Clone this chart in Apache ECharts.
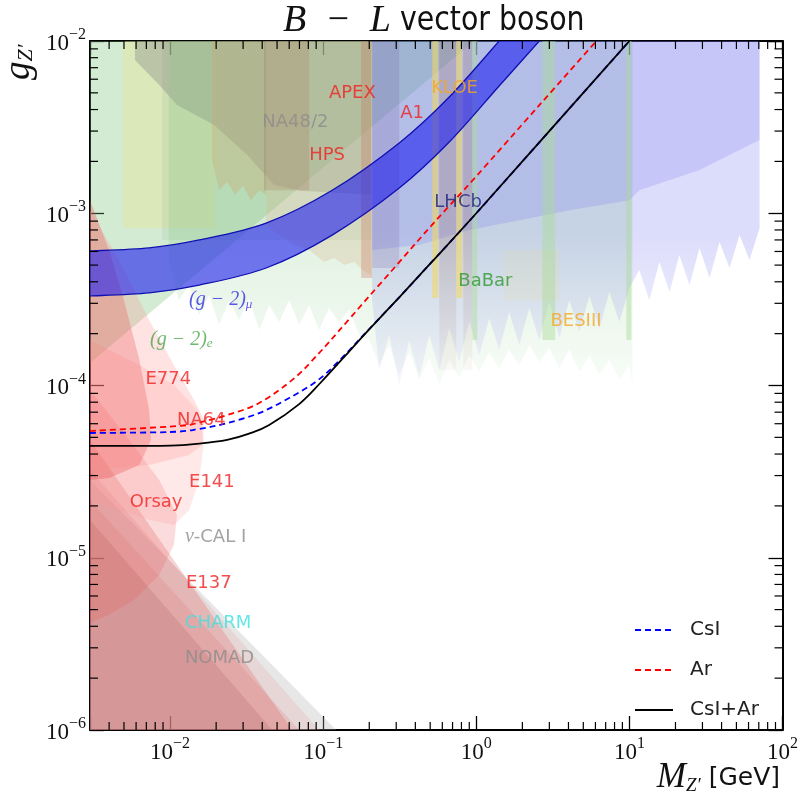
<!DOCTYPE html>
<html>
<head>
<meta charset="utf-8">
<script src="https://cdn.jsdelivr.net/npm/echarts@6/dist/echarts.min.js"></script>
<style>
  html, body { margin: 0; padding: 0; background: #fff; }
  #chart { width: 801px; height: 798px; }
</style>
</head>
<body>
<div id="chart"></div>
<script>
// ---- limit curves (M [GeV], g) ----
var csiLine = [[0.003,5.3e-5],[0.01,5.37e-5],[0.0155,5.6e-5],[0.0236,6.05e-5],[0.0382,6.92e-5],[0.06,8.46e-5],[0.0958,1.1e-4],[0.148,1.6e-4],[0.191,2.04e-4],[0.314,3.25e-4],[0.516,5.25e-4],[1.0,1.0e-3],[2.58,2.58e-3],[10,1e-2]]
var arLine = [[0.003,5.44e-5],[0.0112,5.82e-5],[0.0155,6.1e-5],[0.0236,6.74e-5],[0.0382,7.91e-5],[0.0646,1.1e-4],[0.0958,1.57e-4],[0.127,2.08e-4],[0.191,3.15e-4],[0.314,5.2e-4],[0.516,8.6e-4],[1.0,1.64e-3],[2.58,4.24e-3],[6.09,1e-2]]
var combLine = [[0.003,4.46e-5],[0.01,4.48e-5],[0.0155,4.6e-5],[0.0236,4.83e-5],[0.0328,5.25e-5],[0.0444,5.9e-5],[0.0697,7.8e-5],[0.0958,1.034e-4],[0.148,1.58e-4],[0.191,2.03e-4],[0.314,3.25e-4],[0.516,5.25e-4],[1.0,1.0e-3],[2.58,2.58e-3],[10,1e-2]]

// (g-2)_mu band edges
var gm2muUpper = [[0.003,6.04e-4],[0.0073,6.29e-4],[0.0155,7.0e-4],[0.0424,8.77e-4],[0.1145,1.36e-3],[0.314,2.56e-3],[0.666,4.73e-3],[1.41,1e-2]]
var gm2muLower = [[0.003,3.31e-4],[0.0073,3.45e-4],[0.0155,3.83e-4],[0.0424,4.81e-4],[0.1145,7.47e-4],[0.314,1.40e-3],[0.666,2.59e-3],[1.41,5.48e-3],[2.58,1e-2]]

// ---- excluded regions (outlines) ----
var gm2eRegion = [[0.003,0.01],[0.003,1.35e-4],[0.1145,2.04e-3],[0.97,0.01]]
var yellowRegion = [[0.00493,0.01],[0.00493,8.21e-4],[0.0197,8.21e-4],[0.0197,0.01]]
var greenBoxRegion = [[0.00887,0.01],[0.00887,7.0e-4],[0.206,7.0e-4],[0.206,0.01]]
var na48Region = [[0.0059,0.01],[0.0059,7.76e-3],[0.0085,5.56e-3],[0.0111,4.25e-3],[0.0194,3.25e-3],[0.0319,2.18e-3],[0.0479,1.46e-3],[0.0708,1.35e-3],[0.206,1.28e-3],[0.206,0.01]]
var hpsOrangeRegion = [[0.0188,0.01],[0.0188,2.04e-3],[0.0209,1.36e-3],[0.0236,1.52e-3],[0.0266,1.28e-3],[0.030,1.44e-3],[0.0338,1.19e-3],[0.0382,1.36e-3],[0.0424,1.28e-3],[0.0424,0.01]]
var apexRegion = [[0.0411,0.01],[0.0411,1.36e-3],[0.081,1.36e-3],[0.081,0.01]]
var hpsRegion = [[0.0424,0.01],[0.0424,8.55e-4],[0.0516,7.47e-4],[0.0646,6.54e-4],[0.081,6.12e-4],[0.1015,5.21e-4],[0.118,5.50e-4],[0.137,5.01e-4],[0.1595,5.21e-4],[0.180,4.69e-4],[0.206,4.38e-4],[0.206,0.01]]
var a1Region = [[0.177,0.01],[0.177,4.21e-4],[0.209,4.21e-4],[0.209,0.01]]
var purpleStripe = [[0.209,0.01],[0.209,4.81e-4],[0.314,4.81e-4],[0.314,0.01]]
var babarRegion = [[0.0098,0.01],[0.0098,5.36e-4],[0.0114,3.13e-4],[0.0133,3.83e-4],[0.0155,2.57e-4],[0.018,3.35e-4],[0.0209,2.25e-4],[0.0243,3.13e-4],[0.0282,2.4e-4],[0.0328,3.22e-4],[0.0382,2.1e-4],[0.0444,2.93e-4],[0.0516,2.34e-4],[0.060,3.13e-4],[0.0697,2.25e-4],[0.081,2.93e-4],[0.094,2.1e-4],[0.109,2.82e-4],[0.127,2.34e-4],[0.148,2.74e-4],[0.172,1.97e-4],[0.2,1.84e-4],[0.232,1.31e-4],[0.27,1.72e-4],[0.314,1.15e-4],[0.365,1.56e-4],[0.424,1.08e-4],[0.493,1.44e-4],[0.573,1.01e-4],[0.666,1.41e-4],[0.774,1.11e-4],[0.90,1.50e-4],[1.046,1.20e-4],[1.216,1.56e-4],[1.41,1.26e-4],[1.64,1.61e-4],[1.91,1.31e-4],[2.22,1.72e-4],[2.58,1.37e-4],[3.0,1.65e-4],[3.49,1.26e-4],[4.05,1.61e-4],[4.71,1.20e-4],[5.48,1.50e-4],[6.37,1.15e-4],[7.4,1.41e-4],[8.6,1.08e-4],[10,1.31e-4],[10.46,1.01e-4],[10.46,0.01]]
var lhcbRegion = [[0.209,0.01],[0.209,3.13e-4],[0.232,1.23e-4],[0.27,1.97e-4],[0.314,1.01e-4],[0.365,1.84e-4],[0.424,1.11e-4],[0.493,1.97e-4],[0.573,1.23e-4],[0.666,2.16e-4],[0.774,1.37e-4],[0.90,2.34e-4],[1.046,1.50e-4],[1.216,2.46e-4],[1.41,1.61e-4],[1.64,2.67e-4],[1.91,1.72e-4],[2.22,2.82e-4],[2.58,1.84e-4],[3.0,3.05e-4],[3.49,1.89e-4],[4.05,3.13e-4],[4.71,2.05e-4],[5.48,3.31e-4],[6.37,2.16e-4],[7.4,3.49e-4],[8.6,2.34e-4],[10,3.68e-4],[11.6,4.69e-4],[13.5,3.13e-4],[15.7,5.21e-4],[18.3,3.49e-4],[21.2,5.73e-4],[24.7,3.83e-4],[28.7,6.28e-4],[33.4,4.21e-4],[38.8,6.81e-4],[45.1,4.81e-4],[52.4,7.47e-4],[60.9,5.36e-4],[70.8,8.21e-4],[70.8,0.01]]
var lhcbCoreRegion = [[0.209,0.01],[0.209,6.12e-4],[0.424,6.54e-4],[0.90,8.0e-4],[1.91,9.1e-4],[4.05,1.04e-3],[10,1.19e-3],[11.6,1.36e-3],[28.7,1.78e-3],[70.8,2.66e-3],[70.8,0.01]]
var kloeRegionA = [[0.516,0.01],[0.516,3.22e-4],[0.565,3.22e-4],[0.565,0.01]]
var kloeRegionB = [[0.740,0.01],[0.740,3.22e-4],[0.810,3.22e-4],[0.810,0.01]]
var brownStripeA = [[0.573,0.01],[0.573,1.23e-4],[0.740,1.23e-4],[0.740,0.01]]
var brownStripeB = [[0.822,0.01],[0.822,1.23e-4],[0.942,1.23e-4],[0.942,0.01]]
var greenStripeA = [[0.942,0.01],[0.942,1.84e-4],[1.015,1.84e-4],[1.015,0.01]]
var greenStripeB = [[2.70,0.01],[2.70,1.84e-4],[3.28,1.84e-4],[3.28,0.01]]
var greenStripeC = [[9.55,0.01],[9.55,1.84e-4],[10.3,1.84e-4],[10.3,0.01]]
var besRegion = [[1.5,6.12e-4],[1.5,3.13e-4],[3.49,3.13e-4],[3.49,6.12e-4]]

var nomadRegion = [[0.003,2.83e-5],[0.1216,1e-6],[0.003,1e-6]]
var nucalRegion = [[0.003,3.23e-5],[0.094,1e-6],[0.003,1e-6]]
var charmRegion = [[0.003,2.16e-5],[0.0697,1e-6],[0.003,1e-6]]
var e137Region = [[0.003,4.83e-5],[0.0627,1e-6],[0.003,1e-6]]
var darkRegion = [[0.003,1.66e-5],[0.0465,1e-6],[0.003,1e-6]]
var orsayRegion = [[0.003,9.42e-5],[0.0054,4.83e-5],[0.0085,2.83e-5],[0.0111,1.77e-5],[0.0106,1.19e-5],[0.0085,7.94e-6],[0.00582,5.69e-6],[0.0040,4.66e-6],[0.003,4.18e-6]]
var e141Region = [[0.003,1.84e-4],[0.0063,1.31e-4],[0.0106,1.01e-4],[0.0150,7.21e-5],[0.0167,4.83e-5],[0.0155,2.83e-5],[0.0133,1.89e-5],[0.0106,1.55e-5],[0.0073,1.66e-5],[0.003,2.16e-5]]
var e774Region = [[0.003,1.19e-3],[0.0040,6.12e-4],[0.0050,3.13e-4],[0.0063,1.41e-4],[0.0073,7.21e-5],[0.00751,4.83e-5],[0.0063,3.46e-5],[0.0040,2.90e-5],[0.003,2.83e-5]]
var na64Region = [[0.003,1.04e-3],[0.00464,5.36e-4],[0.0073,2.4e-4],[0.0106,1.31e-4],[0.01435,8.24e-5],[0.0167,6.31e-5],[0.0162,4.52e-5],[0.0133,3.95e-5],[0.0073,3.46e-5],[0.003,3.23e-5]]

// ---- text labels: [M, g, text, colour] ----
var regionLabels = [
  [0.109, 4.99e-3, 'APEX', '#f02020'],
  [0.319, 3.82e-3, 'A1', '#f02020'],
  [0.508, 5.33e-3, 'KLOE', '#f5a623'],
  [0.040, 3.39e-3, 'NA48/2', '#8c8c8c'],
  [0.081, 2.18e-3, 'HPS', '#f02020'],
  [0.532, 1.15e-3, 'LHCb', '#1e1e78'],
  [0.763, 4.05e-4, 'BaBar', '#2e9a2e'],
  [3.05, 2.37e-4, 'BESIII', '#f5a623'],
  [0.0133, 3.13e-4, '{m|(g \u2212 2)}{ms|\u03bc}', '#3030e0'],
  [0.0074, 1.84e-4, '{m|(g \u2212 2)}{ms|e}', '#4ca64c'],
  [0.0069, 1.08e-4, 'E774', '#f02020'],
  [0.0111, 6.31e-5, 'NA64', '#f02020'],
  [0.0133, 2.75e-5, 'E141', '#f02020'],
  [0.00546, 2.11e-5, 'Orsay', '#f02020'],
  [0.0125, 1.32e-5, '{m|\u03bd}-CAL I', '#8c8c8c'],
  [0.0127, 7.13e-6, 'E137', '#f02020'],
  [0.0125, 4.18e-6, 'CHARM', '#3fe0e0'],
  [0.0125, 2.62e-6, 'NOMAD', '#8c8c8c']
]

// minor tick positions (2..9 x decade)
var xMinorTicks = []
var yMinorTicks = []
for (var d = -3; d <= 1; d++) {
  for (var m = 2; m <= 9; m++) {
    var v = m * Math.pow(10, d)
    if (v > 0.00301 && v < 99) xMinorTicks.push(v)
  }
}
for (var d2 = -6; d2 <= -3; d2++) {
  for (var m2 = 2; m2 <= 9; m2++) yMinorTicks.push(m2 * Math.pow(10, d2))
}

var chart = echarts.init(document.querySelector('#chart'))

function fade(r, g, b, a0, a1) {
  return new echarts.graphic.LinearGradient(0, 0, 0, 1, [
    { offset: 0, color: 'rgba(' + r + ',' + g + ',' + b + ',' + a0 + ')' },
    { offset: 0.55, color: 'rgba(' + r + ',' + g + ',' + b + ',' + a0 + ')' },
    { offset: 1, color: 'rgba(' + r + ',' + g + ',' + b + ',' + a1 + ')' }
  ])
}

function polySeries(pts, fill) {
  return {
    type: 'custom',
    silent: true,
    clip: true,
    data: pts,
    renderItem: function (params, api) {
      if (params.dataIndex !== 0) return null
      return {
        type: 'polygon',
        shape: { points: pts.map(function (p) { return api.coord(p) }) },
        style: { fill: fill }
      }
    }
  }
}

// Catmull-Rom curve through pixel points, as svg path commands
function curveThrough(px) {
  var s = ''
  for (var i = 0; i < px.length - 1; i++) {
    var p0 = px[i - 1] || px[i], p1 = px[i], p2 = px[i + 1], p3 = px[i + 2] || p2
    var c1 = [p1[0] + (p2[0] - p0[0]) / 6, p1[1] + (p2[1] - p0[1]) / 6]
    var c2 = [p2[0] - (p3[0] - p1[0]) / 6, p2[1] - (p3[1] - p1[1]) / 6]
    s += ' C' + c1[0] + ',' + c1[1] + ' ' + c2[0] + ',' + c2[1] + ' ' + p2[0] + ',' + p2[1]
  }
  return s
}

function curveSeries(pts, color, dash) {
  return {
    type: 'custom', silent: true, clip: true,
    data: pts,
    renderItem: function (params, api) {
      if (params.dataIndex !== 0) return null
      var px = pts.map(function (p) { return api.coord(p) })
      return {
        type: 'path',
        shape: { pathData: 'M' + px[0][0] + ',' + px[0][1] + curveThrough(px) },
        style: { fill: null, stroke: color, lineWidth: 1.8, lineDash: dash || null }
      }
    }
  }
}

var bandSeries = {
  type: 'custom', silent: true, clip: true,
  data: gm2muUpper,
  renderItem: function (params, api) {
    if (params.dataIndex !== 0) return null
    var up = gm2muUpper.map(function (p) { return api.coord(p) })
    var lo = gm2muLower.map(function (p) { return api.coord(p) }).reverse()
    var fill = 'M' + up[0][0] + ',' + up[0][1] + curveThrough(up) +
      ' L' + lo[0][0] + ',' + lo[0][1] + curveThrough(lo) + ' Z'
    var edge = '#1010b0'
    return { type: 'group', children: [
      { type: 'path', shape: { pathData: fill }, style: { fill: 'rgba(30,30,240,0.6)' } },
      { type: 'path', shape: { pathData: 'M' + up[0][0] + ',' + up[0][1] + curveThrough(up) }, style: { fill: null, stroke: edge, lineWidth: 1.3 } },
      { type: 'path', shape: { pathData: 'M' + lo[0][0] + ',' + lo[0][1] + curveThrough(lo) }, style: { fill: null, stroke: edge, lineWidth: 1.3 } }
    ] }
  }
}

function powLabel(value) {
  var lg = Math.log10(value)
  var e = Math.round(lg)
  if (Math.abs(lg - e) > 1e-6) return ''
  return '{b|10}{s|' + (e < 0 ? '\u2212' + (-e) : e) + '}'
}

var tickRich = {
  b: { fontFamily: 'Liberation Serif', fontSize: 23, color: '#111', lineHeight: 28, verticalAlign: 'bottom' },
  s: { fontFamily: 'Liberation Serif', fontSize: 16, color: '#111', verticalAlign: 'top', lineHeight: 16 }
}

var axisCommon = {
  axisLine: { show: true, onZero: false, lineStyle: { color: '#000', width: 2 } },
  axisTick: { show: true, inside: true, length: 14, lineStyle: { color: '#000', width: 1.3 } },
  splitLine: { show: false },
  minorTick: { show: false }
}

var minorStyle = { stroke: '#000', lineWidth: 1.2 }

var series = [
  polySeries(gm2eRegion, 'rgba(110,190,110,0.3)'),
  polySeries(yellowRegion, 'rgba(235,225,140,0.35)'),
  polySeries(greenBoxRegion, 'rgba(140,170,140,0.15)'),
  polySeries(na48Region, 'rgba(128,128,128,0.35)'),
  polySeries(hpsOrangeRegion, 'rgba(230,150,90,0.3)'),
  polySeries(apexRegion, 'rgba(170,90,70,0.3)'),
  polySeries(hpsRegion, 'rgba(240,180,150,0.3)'),
  polySeries(a1Region, 'rgba(220,90,80,0.3)'),
  polySeries(babarRegion, fade(130, 200, 130, 0.24, 0.06)),
  polySeries(lhcbRegion, fade(110, 110, 240, 0.24, 0.06)),
  polySeries(lhcbCoreRegion, 'rgba(110,110,240,0.2)'),
  polySeries(purpleStripe, 'rgba(120,90,160,0.2)'),
  polySeries(besRegion, 'rgba(240,220,120,0.12)'),
  polySeries(brownStripeA, fade(160, 110, 100, 0.25, 0.05)),
  polySeries(brownStripeB, fade(160, 110, 100, 0.25, 0.05)),
  polySeries(kloeRegionA, 'rgba(245,215,90,0.55)'),
  polySeries(kloeRegionB, 'rgba(245,215,90,0.55)'),
  polySeries(greenStripeA, 'rgba(170,220,150,0.45)'),
  polySeries(greenStripeB, 'rgba(170,220,150,0.45)'),
  polySeries(greenStripeC, 'rgba(170,220,150,0.45)'),
  polySeries(nomadRegion, 'rgba(175,175,175,0.3)'),
  polySeries(nucalRegion, 'rgba(230,175,175,0.3)'),
  polySeries(charmRegion, 'rgba(215,135,135,0.25)'),
  polySeries(e137Region, 'rgba(225,100,100,0.28)'),
  polySeries(darkRegion, 'rgba(170,90,90,0.22)'),
  polySeries(orsayRegion, 'rgba(235,90,90,0.22)'),
  polySeries(e141Region, 'rgba(255,150,150,0.22)'),
  polySeries(e774Region, 'rgba(230,70,70,0.3)'),
  polySeries(na64Region, 'rgba(255,140,140,0.25)'),
  bandSeries,
  curveSeries(csiLine, '#0000ff', [6, 4]),
  curveSeries(arLine, '#ff0000', [6, 4]),
  curveSeries(combLine, '#000000', null),
  // legend entries (curves are drawn above from the same arrays)
  { name: 'CsI', type: 'line', data: [], symbol: 'none', lineStyle: { color: '#0000ff', width: 1.8, type: [6, 4] }, itemStyle: { color: '#0000ff' } },
  { name: 'Ar', type: 'line', data: [], symbol: 'none', lineStyle: { color: '#ff0000', width: 1.8, type: [6, 4] }, itemStyle: { color: '#ff0000' } },
  { name: 'CsI+Ar', type: 'line', data: [], symbol: 'none', lineStyle: { color: '#000', width: 1.8 }, itemStyle: { color: '#000' } },
  {
    type: 'scatter', silent: true, symbolSize: 0,
    data: regionLabels.map(function (r) {
      return { value: [r[0], r[1]], name: r[2], label: { color: r[3] } }
    }),
    label: {
      show: true, position: 'right', distance: 0,
      formatter: function (p) { return p.name },
      fontFamily: 'DejaVu Sans', fontSize: 18,
      rich: {
        m: { fontFamily: 'Liberation Serif', fontStyle: 'italic', fontSize: 20 },
        ms: { fontFamily: 'Liberation Serif', fontStyle: 'italic', fontSize: 13, verticalAlign: 'bottom', padding: [8, 0, 0, 0] }
      }
    }
  },
  {
    type: 'custom', silent: true, clip: false,
    data: xMinorTicks.map(function (v) { return [v, 1e-6] }),
    renderItem: function (params, api) {
      var p = api.coord([api.value(0), 1e-6])
      var cs = params.coordSys
      return { type: 'group', children: [
        { type: 'line', shape: { x1: p[0], y1: cs.y + cs.height, x2: p[0], y2: cs.y + cs.height - 8 }, style: minorStyle },
        { type: 'line', shape: { x1: p[0], y1: cs.y, x2: p[0], y2: cs.y + 8 }, style: minorStyle }
      ] }
    }
  },
  {
    type: 'custom', silent: true, clip: false,
    data: yMinorTicks.map(function (v) { return [0.003, v] }),
    renderItem: function (params, api) {
      var p = api.coord([0.003, api.value(1)])
      var cs = params.coordSys
      return { type: 'group', children: [
        { type: 'line', shape: { x1: cs.x, y1: p[1], x2: cs.x + 8, y2: p[1] }, style: minorStyle },
        { type: 'line', shape: { x1: cs.x + cs.width, y1: p[1], x2: cs.x + cs.width - 8, y2: p[1] }, style: minorStyle }
      ] }
    }
  }
]

var option = {
  animation: false,
  backgroundColor: '#fff',
  grid: { left: 90, right: 18, top: 41, bottom: 68, containLabel: false },
  xAxis: [
    Object.assign({
      type: 'log', logBase: 10, min: 0.003, max: 100, position: 'bottom',
      axisLabel: { formatter: powLabel, rich: tickRich, margin: 6 }
    }, axisCommon),
    Object.assign({
      type: 'log', logBase: 10, min: 0.003, max: 100, position: 'top',
      axisLabel: { show: false }
    }, axisCommon)
  ],
  yAxis: [
    Object.assign({
      type: 'log', logBase: 10, min: 1e-6, max: 1e-2, position: 'left',
      axisLabel: { formatter: powLabel, rich: tickRich, margin: 4 }
    }, axisCommon),
    Object.assign({
      type: 'log', logBase: 10, min: 1e-6, max: 1e-2, position: 'right',
      axisLabel: { show: false }
    }, axisCommon)
  ],
  legend: {
    data: ['CsI', 'Ar', 'CsI+Ar'],
    orient: 'vertical',
    left: 629, top: 615,
    itemWidth: 38, itemHeight: 14, itemGap: 20,
    itemStyle: { opacity: 0 },
    textStyle: { fontFamily: 'DejaVu Sans', fontSize: 20, color: '#222', padding: [0, 0, 0, 12] }
  },
  graphic: [
    {
      type: 'text', x: 283, y: 21,
      style: {
        text: 'B  \u2212  L', align: 'left', verticalAlign: 'middle',
        font: 'italic 38px "Liberation Serif"', fill: '#111'
      }
    },
    {
      type: 'text', x: 400, y: 21, scaleX: 0.86,
      style: {
        text: 'vector boson', align: 'left', verticalAlign: 'middle',
        font: '33px "DejaVu Sans"', fill: '#111'
      }
    },
    {
      type: 'text', x: 19, y: 80, rotation: Math.PI / 2,
      style: {
        text: '{g|g}{z|Z\u2032}',
        align: 'left', verticalAlign: 'middle',
        rich: {
          g: { fontFamily: 'Liberation Serif', fontStyle: 'italic', fontSize: 37, fill: '#111' },
          z: { fontFamily: 'Liberation Serif', fontStyle: 'italic', fontSize: 22, fill: '#111', verticalAlign: 'bottom' }
        }
      }
    },
    {
      type: 'text', x: 780, y: 778,
      style: {
        text: '{m|M}{z|Z\u2032}{u|[GeV]}',
        align: 'right', verticalAlign: 'middle',
        rich: {
          m: { fontFamily: 'Liberation Serif', fontStyle: 'italic', fontSize: 35, fill: '#111' },
          z: { fontFamily: 'Liberation Serif', fontStyle: 'italic', fontSize: 19, fill: '#111', verticalAlign: 'bottom' },
          u: { fontFamily: 'DejaVu Sans', fontSize: 25, fill: '#111', padding: [0, 0, 0, 8] }
        }
      }
    }
  ],
  series: series
}

chart.setOption(option)
</script>
</body>
</html>
